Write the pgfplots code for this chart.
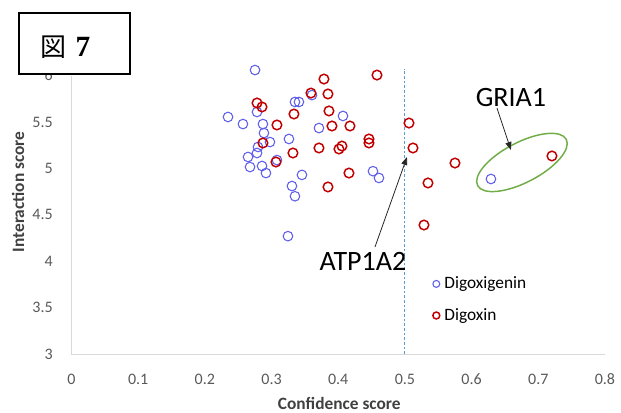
\documentclass[border=0pt]{standalone}
\usepackage{fontspec}
\setmainfont{Carlito}
\newfontfamily\cjk{Noto Sans CJK JP}
\newfontfamily\serifb{Liberation Serif}
\usepackage{pgfplots}
\pgfplotsset{compat=1.18}
\usetikzlibrary{arrows.meta}
\definecolor{dgblue}{RGB}{95,95,235}
\definecolor{dgred}{RGB}{192,0,0}
\definecolor{axgray}{RGB}{217,217,217}
\definecolor{txtgray}{RGB}{89,89,89}
\definecolor{lblgray}{RGB}{64,64,64}
\definecolor{dashblue}{RGB}{91,155,213}
\definecolor{ellgreen}{RGB}{112,173,71}
\begin{document}
\begin{tikzpicture}
\path[use as bounding box] (0,0) rectangle (465.75pt,309pt);
\begin{axis}[
  at={(53.625pt,43.5pt)}, anchor=south west,
  scale only axis, width=400.1pt, height=208.8pt,
  xmin=0, xmax=0.8, ymin=3, ymax=6,
  clip=false,
  axis lines*=left,
  axis line style={draw=axgray, line width=0.75pt, -},
  major tick length=0pt,
  xtick={0,0.1,0.2,0.3,0.4,0.5,0.6,0.7,0.8},
  ytick={3,3.5,4,4.5,5,5.5,6},
  /pgf/number format/fixed, /pgf/number format/precision=1,
  /pgf/number format/assume math mode=true,
  tick label style={font=\fontsize{12}{14}\selectfont, text=txtgray, inner sep=0pt},
  xticklabel style={anchor=center, yshift=-18.75pt},
  yticklabel style={anchor=east, xshift=-13.9pt},
  xlabel={Confidence score}, ylabel={Interaction score},
  label style={font=\bfseries\fontsize{13}{15}\selectfont, text=lblgray, inner sep=0pt},
  xlabel style={at={(axis description cs:0.502,-0.176)}, anchor=center},
  ylabel style={at={(axis description cs:-0.100,0.582)}, anchor=center},
  legend style={draw=none, fill=none, at={(axis cs:0.5415,3.862)}, anchor=north west,
    font=\fontsize{13}{15}\selectfont, row sep=9.25pt, inner sep=0pt,
    nodes={inner xsep=3.5pt, inner ysep=2pt}},
  legend cell align=left,
  legend image code/.code={\draw[#1, mark size=2.6pt] plot coordinates {(0pt,0pt)};},
]
\addplot[dashblue, line width=0.75pt, dash pattern=on 2pt off 1.5pt, forget plot]
  coordinates {(0.5,3) (0.5,6.07)};

\addplot[only marks, mark=o, mark size=3.6pt, draw=dgblue, line width=0.8pt,
  mark options={draw=dgblue, line width=0.8pt}] table {
x y
0.2752 6.060
0.2347 5.554
0.2571 5.478
0.2782 5.608
0.2871 5.478
0.2886 5.381
0.2976 5.284
0.2797 5.231
0.2782 5.166
0.2647 5.123
0.2677 5.015
0.2857 5.026
0.2916 4.950
0.3081 5.090
0.3261 5.317
0.3351 5.716
0.3411 5.716
0.3606 5.790
0.3711 5.435
0.4071 5.565
0.3456 4.930
0.3306 4.810
0.3351 4.700
0.3246 4.270
0.4521 4.970
0.4611 4.897
0.6290 4.886
};
\addlegendentry{Digoxigenin}

\addplot[only marks, mark=o, mark size=3.6pt, draw=dgred, line width=1.1pt,
  mark options={draw=dgred, line width=1.1pt}] table {
x y
0.3786 5.963
0.4581 6.006
0.2782 5.705
0.2857 5.662
0.3081 5.468
0.3336 5.586
0.3591 5.812
0.3846 5.802
0.3861 5.619
0.3906 5.457
0.4176 5.457
0.2871 5.274
0.3066 5.069
0.3321 5.166
0.3711 5.220
0.4011 5.209
0.4056 5.241
0.4461 5.317
0.4461 5.274
0.4161 4.950
0.3846 4.800
0.5061 5.489
0.5121 5.220
0.5751 5.058
0.5346 4.843
0.5286 4.390
0.7205 5.134
};
\addlegendentry{Digoxin}

\draw[ellgreen, line width=1.1pt, rotate around={27.5:(axis cs:0.6755,5.064)}]
  (axis cs:0.6755,5.064) ellipse [x radius=37.5pt, y radius=15pt];
\draw[-{Triangle[length=6pt,width=4.5pt]}, line width=0.6pt, black!85]
  (axis cs:0.4551,4.153) -- (axis cs:0.5031,5.123);
\draw[-{Triangle[length=6pt,width=4.5pt]}, line width=0.6pt, black!85]
  (axis cs:0.638,5.651) -- (axis cs:0.659,5.198);
\node[font=\fontsize{21}{21}\selectfont] at (axis cs:0.437,4.002) {ATP1A2};
\node[font=\fontsize{21}{21}\selectfont] at (axis cs:0.659,5.769) {GRIA1};
\end{axis}
\draw[line width=1.1pt, fill=white] (14.25pt,299.25pt) rectangle (97.5pt,253.5pt);
\node[font=\cjk\fontsize{19.5}{20}\selectfont, inner sep=0pt] at (39.75pt,273.75pt) {図};
\node[font=\serifb\bfseries\fontsize{22}{22}\selectfont, inner sep=0pt] at (62.25pt,273.75pt) {7};
\end{tikzpicture}
\end{document}
